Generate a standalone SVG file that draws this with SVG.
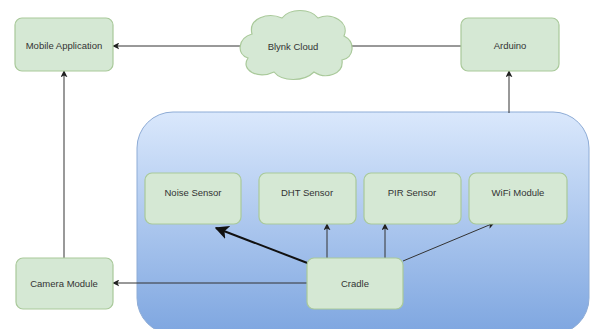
<svg xmlns="http://www.w3.org/2000/svg" width="590" height="329" viewBox="0 0 590 329">
<defs>
<linearGradient id="bg" x1="0" y1="0" x2="0" y2="1">
<stop offset="0" stop-color="#dae8fc"/>
<stop offset="1" stop-color="#7ea6e0"/>
</linearGradient>
<marker id="ah" viewBox="0 0 10 10" refX="9" refY="5" markerWidth="7" markerHeight="7" markerUnits="userSpaceOnUse" orient="auto">
<path d="M0,0 L10,5 L0,10 L2.5,5 Z" fill="#222"/>
</marker>
<marker id="ahb" viewBox="0 0 10 10" refX="9" refY="5" markerWidth="14" markerHeight="14" markerUnits="userSpaceOnUse" orient="auto">
<path d="M0,0 L10,5 L0,10 L2.5,5 Z" fill="#111"/>
</marker>
</defs>
<style>
.box{fill:#d5e8d4;stroke:#a9c99a;stroke-width:1.2}
.lbl{font-family:"Liberation Sans",Arial,sans-serif;font-size:9.5px;fill:#333;text-anchor:middle;dominant-baseline:central}
.ln{fill:none;stroke:#333;stroke-width:1;marker-end:url(#ah)}
</style>
<rect width="590" height="329" fill="#ffffff"/>
<g id="cradle-container">
<rect x="137" y="112" width="452" height="222" rx="36" fill="url(#bg)" stroke="#8eacd6" stroke-width="1"/>
</g>
<g id="connectors">
<path class="ln" d="M461,46 H342"/>
<path class="ln" d="M242,46 H113"/>
<path class="ln" d="M509,113 V71"/>
<path d="M64,258 V71" fill="none" stroke="#777" stroke-width="1.5" marker-end="url(#ah)"/>
<path class="ln" d="M307,283 H113"/>
<path d="M310,264 L216,228" fill="none" stroke="#111" stroke-width="2" marker-end="url(#ahb)"/>
<path class="ln" d="M327,258 V224"/>
<path class="ln" d="M385,258 V224"/>
<path class="ln" d="M403,261 L494,223" stroke="#2a3a5a"/>
</g>
<g id="mobile-application">
<rect class="box" x="15" y="18" width="98" height="53" rx="7"/>
<text class="lbl" x="64" y="45">Mobile Application</text>
</g>
<g id="blynk-cloud">
<path class="box" d="M252,34 C248,18 268,12 282,18 C290,8 310,8 318,18 C332,12 350,22 344,36 C356,42 354,58 342,60 C344,74 326,80 314,72 C304,82 282,82 274,72 C258,80 240,70 248,58 C236,54 238,38 252,34 Z"/>
<text class="lbl" x="293" y="46">Blynk Cloud</text>
</g>
<g id="arduino">
<rect class="box" x="461" y="18" width="98" height="53" rx="7"/>
<text class="lbl" x="510" y="45">Arduino</text>
</g>
<g id="noise-sensor">
<rect class="box" x="145" y="173" width="96" height="51" rx="7"/>
<text class="lbl" x="193" y="192">Noise Sensor</text>
</g>
<g id="dht-sensor">
<rect class="box" x="259" y="173" width="97" height="51" rx="7"/>
<text class="lbl" x="307" y="192">DHT Sensor</text>
</g>
<g id="pir-sensor">
<rect class="box" x="364" y="173" width="97" height="51" rx="7"/>
<text class="lbl" x="412" y="192">PIR Sensor</text>
</g>
<g id="wifi-module">
<rect class="box" x="469" y="173" width="98" height="51" rx="7"/>
<text class="lbl" x="518" y="192">WiFi Module</text>
</g>
<g id="camera-module">
<rect class="box" x="16" y="258" width="97" height="51" rx="7"/>
<text class="lbl" x="64" y="283">Camera Module</text>
</g>
<g id="cradle">
<rect class="box" x="307" y="258" width="96" height="51" rx="7"/>
<text class="lbl" x="355" y="283">Cradle</text>
</g>
</svg>
